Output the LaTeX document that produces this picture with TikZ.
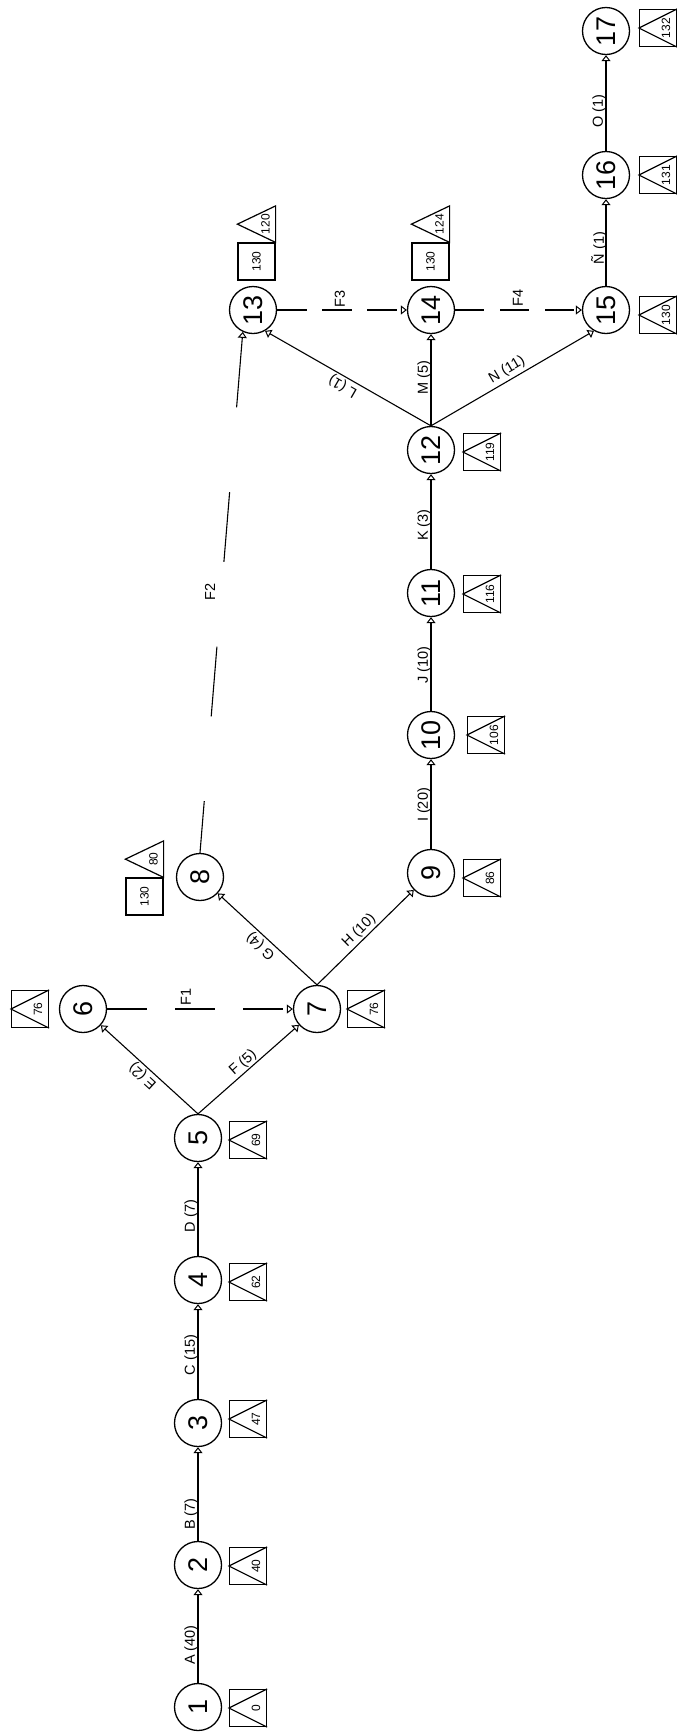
\documentclass[tikz,border=0pt]{standalone}
\usepackage{fontspec}
\setmainfont{Liberation Sans}
\usepackage{graphicx}
\usetikzlibrary{arrows.meta,calc}
\begin{document}
\begin{tikzpicture}[x=1pt,y=-1pt,
  ev/.style={circle,draw,line width=1.3pt,minimum size=47pt,inner sep=0pt,
    font=\fontsize{27}{27}\selectfont},
  fb/.style={draw,line width=1.2pt,minimum size=37pt,inner sep=0pt},
  bnum/.style={font=\fontsize{12}{12}\selectfont,inner sep=0pt},
  lab/.style={font=\fontsize{14.5}{14.5}\selectfont,inner sep=0pt},
  tip/.tip={Triangle[open,length=6pt,width=9pt,line width=1pt]},
  act/.style={line width=1.1pt,-tip},
  dummy/.style={line width=1.1pt,-tip},
  dummyback/.style={line width=1.1pt,tip-},
]
\fill[white] (0,0) rectangle (677,1733);
\useasboundingbox (0,0) rectangle (677,1733);

% events
\node[ev] (n1)  at (198,1707) {\rotatebox{90}{1}};
\node[ev] (n2)  at (198,1565) {\rotatebox{90}{2}};
\node[ev] (n3)  at (198,1423) {\rotatebox{90}{3}};
\node[ev] (n4)  at (198,1280) {\rotatebox{90}{4}};
\node[ev] (n5)  at (198,1138) {\rotatebox{90}{5}};
\node[ev] (n6)  at (83,1009)  {\rotatebox{90}{6}};
\node[ev] (n7)  at (317,1009) {\rotatebox{90}{7}};
\node[ev] (n8)  at (200,877)  {\rotatebox{90}{8}};
\node[ev] (n9)  at (431,873)  {\rotatebox{90}{9}};
\node[ev] (n10) at (431,735)  {\rotatebox{90}{10}};
\node[ev] (n11) at (431,593)  {\rotatebox{90}{11}};
\node[ev] (n12) at (431,450)  {\rotatebox{90}{12}};
\node[ev] (n13) at (253,310)  {\rotatebox{90}{13}};
\node[ev] (n14) at (431,310)  {\rotatebox{90}{14}};
\node[ev] (n15) at (606,310)  {\rotatebox{90}{15}};
\node[ev] (n16) at (606,175)  {\rotatebox{90}{16}};
\node[ev] (n17) at (606,31)   {\rotatebox{90}{17}};

% slack boxes
\node[fb] (b1)  at (248,1708) {};
\node[fb] (b2)  at (248,1566) {};
\node[fb] (b3)  at (248,1419) {};
\node[fb] (b4)  at (248,1282) {};
\node[fb] (b5)  at (248,1140) {};
\node[fb] (b6)  at (30,1009)  {};
\node[fb] (b7)  at (366,1009) {};
\node[fb] (b9)  at (482,878)  {};
\node[fb] (b10) at (486,735)  {};
\node[fb] (b11) at (482,594)  {};
\node[fb] (b12) at (482,452)  {};
\node[fb] (b15) at (658,315)  {};
\node[fb] (b16) at (658,175)  {};
\node[fb] (b17) at (658,28)   {};
\foreach \n/\v in {1/0,2/40,3/47,4/62,5/69,6/76,7/76,9/86,10/106,11/116,12/119,15/130,16/131,17/132} {
  \draw[line width=1.2pt] (b\n.north east) -- (b\n.west) -- (b\n.south east);
  \node[bnum,rotate=90] at ($(b\n.center)+(8,0)$) {\v};
}

% square plus triangle pairs
\node[fb] (s8)  at (144.5,896.5) {};
\node[fb] (s13) at (256.5,261.5) {};
\node[fb] (s14) at (430.5,261.5) {};
\foreach \s/\a/\b in {s8/130/80,s13/130/120,s14/130/124} {
  \draw[line width=1.2pt] (\s.north east) -- ++(0,-36.5) -- ($(\s.north west)+(0,-18.25)$) -- cycle;
  \node[bnum,rotate=90] at (\s.center) {\a};
  \node[bnum,rotate=90] at ($(\s.north)+(9,-18.25)$) {\b};
}

% activities
\draw[act] (n1) -- (n2);
\draw[act] (n2) -- (n3);
\draw[act] (n3) -- (n4);
\draw[act] (n4) -- (n5);
\draw[act] (n5.north) -- (n6);
\draw[act] (n5.north) -- (n7);
\draw[act] (n7.north) -- (n8);
\draw[act] (n7.north) -- (n9);
\draw[act] (n9) -- (n10);
\draw[act] (n10) -- (n11);
\draw[act] (n11) -- (n12);
\draw[act] (n12.north) -- (n13.-60);
\draw[act] (n12) -- (n14);
\draw[act] (n12.north) -- (n15.-120);
\draw[act] (n15) -- (n16);
\draw[act] (n16) -- (n17);

% dummy activities
\draw[dummy,dash pattern=on 40pt off 28pt] (n6.east) -- (n7.west);
\draw[dummyback,dash pattern=on 70pt off 85pt] (n13.245) -- (n8.north);
\draw[dummy,dash pattern=on 30pt off 15pt] (n13.east) -- (n14.west);
\draw[dummy,dash pattern=on 29pt off 16pt] (n14.east) -- (n15.west);

% activity labels
\node[lab,rotate=90] (lA) at (191,1645) {A (40)};
\node[lab,rotate=90] (lB) at (191,1514) {B (7)};
\node[lab,rotate=90] (lC) at (191,1355) {C (15)};
\node[lab,rotate=90] (lD) at (191,1216) {D (7)};
\node[lab,rotate=137.5] (lE) at (143,1076) {E (2)};
\node[lab,rotate=41.6] (lF) at (243,1063) {F (5)};
\node[lab,rotate=137.2] (lG) at (261,946) {G (4)};
\node[lab,rotate=44.6] (lH) at (359,931) {H (10)};
\node[lab,rotate=90] (lI) at (424,805) {I (20)};
\node[lab,rotate=90] (lJ) at (424,665) {J (10)};
\node[lab,rotate=90] (lK) at (424,525) {K (3)};
\node[lab,rotate=150] (lL) at (343,386) {L (1)};
\node[lab,rotate=90] (lM) at (424,378) {M (5)};
\node[lab,rotate=30.5] (lN) at (507,370) {N (11)};
\node[lab,rotate=90] (lNt) at (599,248) {Ñ (1)};
\node[lab,rotate=90] (lO) at (599,111) {O (1)};
\node[lab,rotate=90] (lF1) at (186,997) {F1};
\node[lab,rotate=90] (lF2) at (210,592) {F2};
\node[lab,rotate=90] (lF3) at (340,299) {F3};
\node[lab,rotate=90] (lF4) at (518,298) {F4};
\end{tikzpicture}
\end{document}
